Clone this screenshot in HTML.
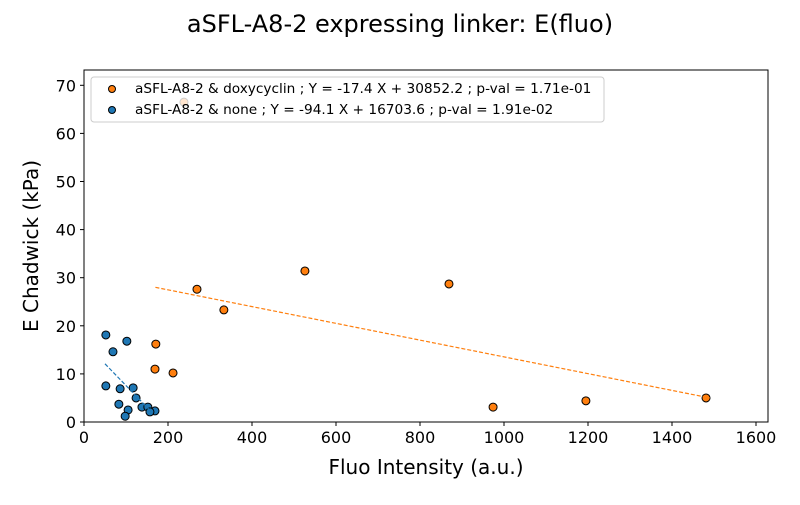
<!DOCTYPE html>
<html><head><meta charset="utf-8"><style>
body{margin:0;background:#fff;font-family:"Liberation Sans","DejaVu Sans",sans-serif}
</style></head><body>
<svg id="c" width="800" height="500" xmlns="http://www.w3.org/2000/svg" font-family="DejaVu Sans, Liberation Sans, sans-serif">
<text x="400" y="32" text-anchor="middle" font-size="24">aSFL-A8-2 expressing linker: E(fluo)</text>
<g id="ticks"></g>
<g id="marks"></g>
<rect x="84" y="70" width="684" height="352" fill="none" stroke="#000" stroke-width="1"/>
<text x="426" y="474" text-anchor="middle" font-size="20">Fluo Intensity (a.u.)</text>
<text transform="translate(38,246) rotate(-90)" text-anchor="middle" font-size="20">E Chadwick (kPa)</text>
<g>
<rect x="91" y="77" width="513" height="45" rx="3" fill="#fff" fill-opacity="0.8" stroke="#ccc"/>
<circle cx="112" cy="89" r="3.5" fill="#ff7f0e" stroke="#000"/>
<text x="135" y="93" font-size="13.7">aSFL-A8-2 &amp; doxycyclin ; Y = -17.4 X + 30852.2 ; p-val = 1.71e-01</text>
<circle cx="112" cy="110" r="3.5" fill="#1f77b4" stroke="#000"/>
<text x="135" y="114" font-size="13.7">aSFL-A8-2 &amp; none ; Y = -94.1 X + 16703.6 ; p-val = 1.91e-02</text>
</g>
</svg>
<script>
const xTicks=[0,200,400,600,800,1000,1200,1400,1600];
const yTicks=[0,10,20,30,40,50,60,70];
const doxX=[171,169,212,269,333,526,869,974,1195,1481,238];
const doxY=[16.2,11.0,10.2,27.6,23.3,31.4,28.7,3.1,4.4,5.0,66.5];
const noneX=[52,102,69,52,86,117,124,83,138,152,169,157,105,98];
const noneY=[18.1,16.8,14.6,7.5,6.9,7.1,5.0,3.7,3.1,3.1,2.3,2.1,2.5,1.2];
const doxFitX=[170,1490], doxFitY=[28,5];
const noneFitX=[50,155], noneFitY=[12.1,2.6];
const sx=v=>84+v*0.42, sy=v=>422-v*4.81;
const NS="http://www.w3.org/2000/svg";
const T=document.getElementById('ticks'),M=document.getElementById('marks');
function mk(tag,at,p){const e=document.createElementNS(NS,tag);for(const k in at)e.setAttribute(k,at[k]);p.appendChild(e);return e;}
xTicks.forEach(t=>{const l=mk('line',{x1:sx(t),x2:sx(t),y1:422,y2:426,stroke:'#000'},T);


const s=mk('text',{x:sx(t),y:443,'text-anchor':'middle','font-size':16},T);s.textContent=t;

});
yTicks.forEach(t=>{const l=mk('line',{x1:80,x2:84,y1:sy(t),y2:sy(t),stroke:'#000'},T);


const s=mk('text',{x:76,y:sy(t)+6,'text-anchor':'end','font-size':16},T);s.textContent=t;

});
function fit(xs,ys,c,n){const l=mk('line',{x1:sx(xs[0]),y1:sy(ys[0]),x2:sx(xs[1]),y2:sy(ys[1]),stroke:c,'stroke-width':1.2,'stroke-dasharray':'4,2'},M);

}
function pts(xs,ys,c,n){xs.forEach((x,i)=>{const p=mk('circle',{cx:sx(x),cy:sy(ys[i]),r:4,fill:c,stroke:'#000','stroke-width':1},M);

});}
pts(doxX,doxY,'#ff7f0e','point-doxycyclin');
pts(noneX,noneY,'#1f77b4','point-none');
fit(doxFitX,doxFitY,'#ff7f0e','fit-line-doxycyclin');
fit(noneFitX,noneFitY,'#1f77b4','fit-line-none');
</script>
</body></html>
